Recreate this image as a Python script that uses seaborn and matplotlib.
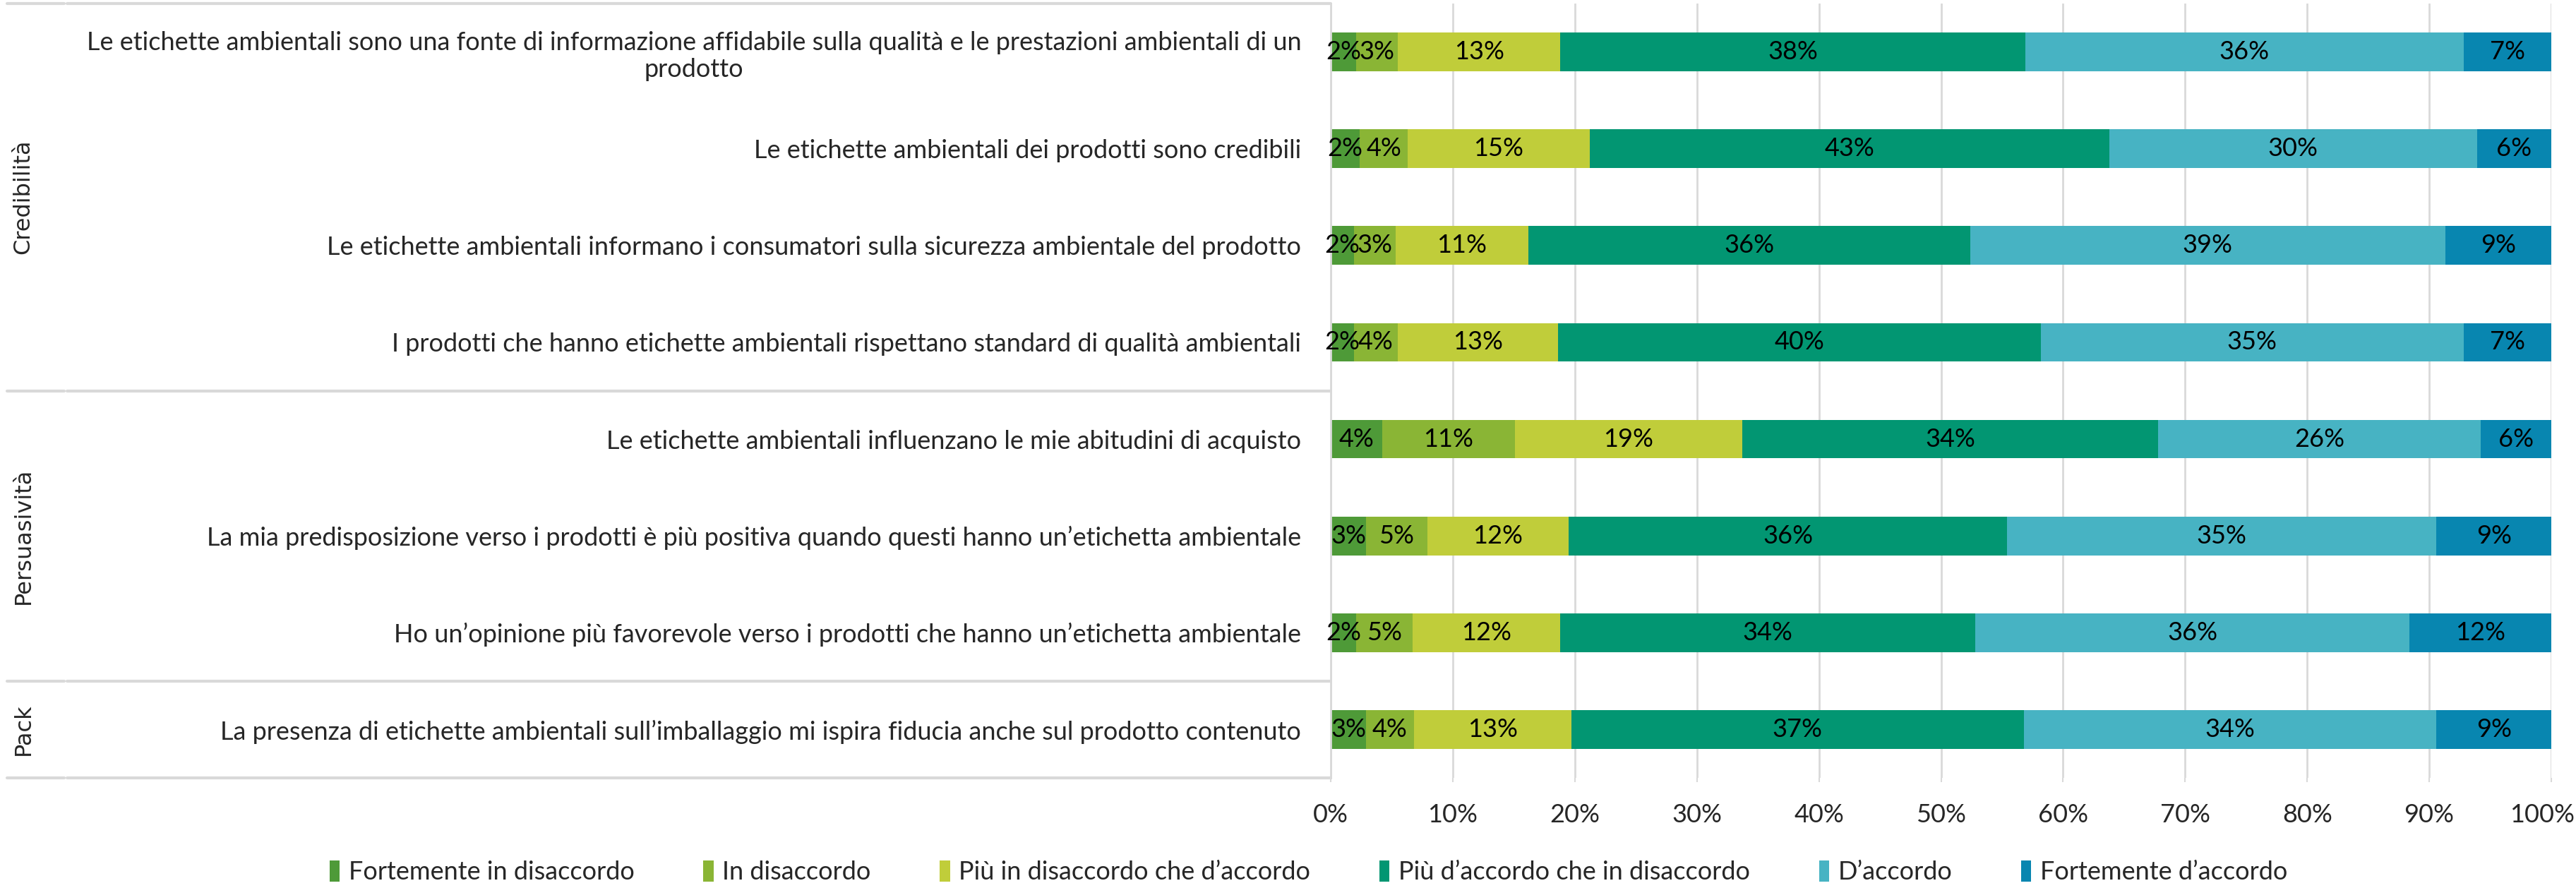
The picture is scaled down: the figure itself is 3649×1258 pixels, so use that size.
import matplotlib
matplotlib.use("Agg")
import matplotlib.pyplot as plt
import matplotlib.transforms as mtransforms
from matplotlib.font_manager import FontProperties
from matplotlib.lines import Line2D
from matplotlib.patches import Patch
import numpy as np
import pandas as pd
import seaborn as sns

# ---------------- data ----------------
categories = [
    "Le etichette ambientali sono una fonte di informazione affidabile sulla qualità e le prestazioni ambientali di un\nprodotto",
    "Le etichette ambientali dei prodotti sono credibili",
    "Le etichette ambientali informano i consumatori sulla sicurezza ambientale del prodotto",
    "I prodotti che hanno etichette ambientali rispettano standard di qualità ambientali",
    "Le etichette ambientali influenzano le mie abitudini di acquisto",
    "La mia predisposizione verso i prodotti è più positiva quando questi hanno un’etichetta ambientale",
    "Ho un’opinione più favorevole verso i prodotti che hanno un’etichetta ambientale",
    "La presenza di etichette ambientali sull’imballaggio mi ispira fiducia anche sul prodotto contenuto",
]
groups = ["Credibilità", "Persuasività", "Pack"]
group_sizes = [4, 3, 1]

series_names = [
    "Fortemente in disaccordo",
    "In disaccordo",
    "Più in disaccordo che d’accordo",
    "Più d’accordo che in disaccordo",
    "D’accordo",
    "Fortemente d’accordo",
]
fortemente_disaccordo = [2.1, 2.4, 1.9, 1.9, 4.2, 2.9, 2.1, 2.9]
in_disaccordo = [3.4, 3.9, 3.4, 3.6, 10.9, 5.0, 4.6, 3.9]
piu_disaccordo = [13.3, 14.9, 10.9, 13.1, 18.6, 11.6, 12.1, 12.9]
piu_accordo = [38.1, 42.6, 36.2, 39.6, 34.1, 35.9, 34.0, 37.1]
d_accordo = [35.9, 30.1, 38.9, 34.6, 26.4, 35.2, 35.6, 33.8]
fortemente_accordo = [7.2, 6.1, 8.7, 7.2, 5.8, 9.4, 11.6, 9.4]

x_ticks = [0, 10, 20, 30, 40, 50, 60, 70, 80, 90, 100]

colors = ["#4E9A38", "#8AB535", "#C0CD3A", "#029672", "#47B3C3", "#0886B0"]

series = [fortemente_disaccordo, in_disaccordo, piu_disaccordo,
          piu_accordo, d_accordo, fortemente_accordo]

# ---------------- style ----------------
sns.set_theme(style="white")
plt.rcParams["font.family"] = ["Lato", "DejaVu Sans"]
FS = 26
GRID = "#D9D9D9"

W, H = 3649, 1258
fig = plt.figure(figsize=(W / 100, H / 100), dpi=100)
left, right = 1885 / W, 3614 / W
top, bottom = 1 - 5 / H, 1 - 1102 / H
ax = fig.add_axes([left, bottom, right - left, top - bottom])

vals = np.array(series)  # shape (6, 8)
cums = np.cumsum(vals, axis=0)

# draw cumulative bars from the outermost to the innermost
for k in range(len(series) - 1, -1, -1):
    df = pd.DataFrame({"cat": categories, "val": cums[k]})
    sns.barplot(data=df, x="val", y="cat", order=categories, orient="h",
                color=colors[k], saturation=1, width=0.4, ax=ax,
                edgecolor="none", linewidth=0)

# segment labels
for k in range(len(series)):
    starts = cums[k] - vals[k]
    for i, v in enumerate(vals[k]):
        ax.text(starts[i] + v / 2, i, f"{v:.0f}%", ha="center", va="center",
                fontsize=FS, color="black")

ax.set_xlim(0, 100)
ax.set_ylim(len(categories) - 0.5, -0.5)
ax.set_xticks(x_ticks)
ax.set_xticklabels([f"{t}%" for t in x_ticks])
ax.set_xlabel("")
ax.set_ylabel("")
ax.set_axisbelow(True)
ax.xaxis.grid(True, color=GRID, linewidth=2)
ax.yaxis.grid(False)
for s in ["top", "right", "bottom"]:
    ax.spines[s].set_visible(False)
ax.spines["left"].set_color(GRID)
ax.spines["left"].set_linewidth(2)
ax.tick_params(axis="x", length=4, width=1.5, color=GRID, pad=22,
               labelsize=FS, bottom=True)
ax.tick_params(axis="y", length=0, pad=30, labelsize=FS)
for lbl in ax.get_yticklabels():
    lbl.set_multialignment("center")

# keep the "100%" label inside the canvas
last_lbl = ax.xaxis.get_major_ticks()[-1].label1
last_lbl.set_horizontalalignment("right")
last_lbl.set_transform(last_lbl.get_transform() +
                       mtransforms.ScaledTranslation(0.33, 0, fig.dpi_scale_trans))

# group labels and separators
blend = mtransforms.blended_transform_factory(fig.transFigure, ax.transData)
gfont = FontProperties(family="DejaVu Sans", size=23)
start = 0
bounds = [-0.5]
for g, n in zip(groups, group_sizes):
    center = start + (n - 1) / 2
    ax.text(33 / W, center, g, rotation=90, ha="center", va="center",
            fontproperties=gfont, transform=blend)
    start += n
    bounds.append(start - 0.5)
for b in bounds:
    fig.add_artist(Line2D([10 / W, 91 / W], [b, b], transform=blend,
                          color=GRID, linewidth=3, clip_on=False))
    fig.add_artist(Line2D([95 / W, left], [b, b], transform=blend,
                          color=GRID, linewidth=3, clip_on=False))

# legend
handles = [Patch(facecolor=c, edgecolor="none", label=n)
           for c, n in zip(colors, series_names)]
fig.legend(handles=handles, loc="center", bbox_to_anchor=(0.508, 0.018),
           ncol=6, frameon=False, fontsize=FS, handlelength=0.4,
           handleheight=0.9, handletextpad=0.35, columnspacing=2.7)

fig.savefig("out.png", dpi=100)
